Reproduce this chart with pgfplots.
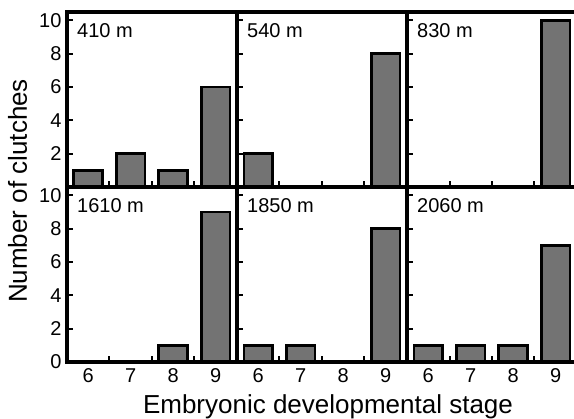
\documentclass[border=0pt]{standalone}
\usepackage{fontspec}
\setmainfont{Liberation Sans}
\usepackage{pgfplots}
\pgfplotsset{compat=1.18}
\definecolor{barg}{RGB}{115,115,115}
\pgfplotsset{
 panel/.style={
  scale only axis, width=170pt, height=175pt,
  xmin=5.5, xmax=9.5, ymin=0, ymax=10.5,
  anchor=south west,
  clip=false,
  axis line style={line width=3.6pt},
  tick align=inside,
  xtick={6,7,8,9},
  major x tick style={draw=none},
  minor xtick={6.5,7.5,8.5},
  ytick={0,2,...,10},
  xtick pos=bottom, ytick pos=left,
  tick style={line width=2pt, black},
  major tick length=6pt, minor tick length=6pt,
  xticklabel=\empty, yticklabel=\empty,
  /pgf/number format/assume math mode=true,
  tick label style={font=\fontsize{20}{22}\selectfont},
  x tick label style={yshift=-3pt},
  y tick label style={xshift=-2pt},
 },
 toprow/.style={ytick={2,4,...,10}},
 xlab/.style={xticklabel={\pgfmathprintnumber{\tick}}},
 ylab/.style={yticklabel={\pgfmathprintnumber{\tick}}},
 bars/.style={ybar, bar width=0.68, fill=barg, draw=black, line width=2.6pt},
}
\newcommand{\plab}[1]{\node[anchor=base west, inner sep=0pt, font=\fontsize{20}{22}\selectfont] at (rel axis cs:0,1) [xshift=10pt, yshift=-26pt] {#1};
\draw[line width=3.6pt] (rel axis cs:0,0) rectangle (rel axis cs:1,1);}
\begin{document}
\begin{tikzpicture}
\path[use as bounding box] (-67pt,-57pt) rectangle (507pt,362pt);
% top row
\begin{axis}[panel, toprow, ylab, at={(0pt,175pt)}]
\addplot[bars] coordinates {(6,1) (7,2) (8,1) (9,6)};
\plab{410 m}
\end{axis}
\begin{axis}[panel, toprow, at={(170pt,175pt)}]
\addplot[bars] coordinates {(6,2) (9,8)};
\plab{540 m}
\end{axis}
\begin{axis}[panel, toprow, at={(340pt,175pt)}]
\addplot[bars] coordinates {(9,10)};
\plab{830 m}
\end{axis}
% bottom row
\begin{axis}[panel, xlab, ylab, at={(0pt,0pt)}]
\addplot[bars] coordinates {(8,1) (9,9)};
\plab{1610 m}
\end{axis}
\begin{axis}[panel, xlab, at={(170pt,0pt)}]
\addplot[bars] coordinates {(6,1) (7,1) (9,8)};
\plab{1850 m}
\end{axis}
\begin{axis}[panel, xlab, at={(340pt,0pt)}]
\addplot[bars] coordinates {(6,1) (7,1) (8,1) (9,7)};
\plab{2060 m}
\end{axis}
\node[rotate=90, anchor=base, font=\fontsize{26}{30}\selectfont] at (-40pt,171pt) {Number of clutches};
\node[anchor=base, font=\fontsize{26}{30}\selectfont] at (261pt,-52pt) {Embryonic developmental stage};
\end{tikzpicture}
\end{document}
